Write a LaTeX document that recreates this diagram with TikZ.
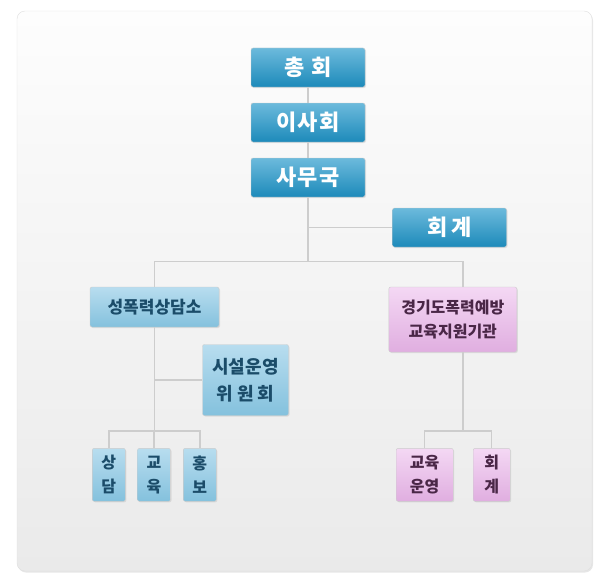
\documentclass[tikz,border=0pt]{standalone}
\usepackage{fontspec}
\setmainfont{Noto Sans CJK KR}
\usetikzlibrary{shadows}

\definecolor{headtop}{HTML}{6CBADC}
\definecolor{headbottom}{HTML}{1D8ABA}
\definecolor{subtop}{HTML}{B8DDEF}
\definecolor{subbottom}{HTML}{84C1DD}
\definecolor{subtext}{HTML}{1B4C69}
\definecolor{pinktop}{HTML}{F4D8F4}
\definecolor{pinkbottom}{HTML}{E0AEE0}
\definecolor{pinktext}{HTML}{4A2747}
\definecolor{linegray}{HTML}{CDCDCD}
\definecolor{paneltop}{HTML}{FDFDFD}
\definecolor{panelbottom}{HTML}{EAEAEA}

\begin{document}
\begin{tikzpicture}[
  x=1pt,
  y=-1pt,
  inner sep=0pt,
  box/.style={
    draw=gray!40,
    rounded corners=2pt,
    align=center,
    drop shadow={opacity=0.18,shadow xshift=1pt,shadow yshift=-1pt}
  },
  head/.style={
    box,
    top color=headtop,
    bottom color=headbottom,
    text=white,
    minimum width=114pt,
    minimum height=39pt,
    font=\fontsize{22}{26}\selectfont\bfseries
  },
  sub/.style={
    box,
    top color=subtop,
    bottom color=subbottom,
    text=subtext,
    font=\fontsize{17}{24}\selectfont\bfseries
  },
  pink/.style={
    box,
    top color=pinktop,
    bottom color=pinkbottom,
    text=pinktext,
    font=\fontsize{16}{24}\selectfont\bfseries
  },
  line/.style={
    draw=linegray,
    line width=1.4pt
  }
  ]

  % panel
  \useasboundingbox (0,0) rectangle (607,586);
  \path [rounded corners=8pt,top color=paneltop,bottom color=panelbottom,
    draw=gray!25,drop shadow={opacity=0.2,shadow xshift=1pt,shadow yshift=-1.5pt}]
    (17,11) rectangle (592,571);

  \node (chonghoe) [head] at (308,67.5) {총\hspace{0.3em}회};
  \node (isahoe) [head] at (308,122.5) {이\hspace{0.05em}사\hspace{0.05em}회};
  \node (samuguk) [head] at (308,177.5) {사\hspace{0.05em}무\hspace{0.05em}국};
  \node (hoegye) [head] at (449.5,227.5) {회\hspace{0.2em}계};
  \node (sangdamso) [sub,minimum width=129pt,minimum height=40pt] at (154.5,307) {성폭력상담소};
  \node (siseol) [sub,minimum width=86pt,minimum height=71pt,font=\fontsize{18}{27}\selectfont\bfseries] at (245.5,380) {시설운영\\위 원 회};
  \node (sangdam) [sub,minimum width=33pt,minimum height=53pt,font=\fontsize{16}{24}\selectfont\bfseries] at (108.8,474.8) {상\\담};
  \node (gyoyuk) [sub,minimum width=33pt,minimum height=53pt,font=\fontsize{16}{24}\selectfont\bfseries] at (154,474.8) {교\\육};
  \node (hongbo) [sub,minimum width=33pt,minimum height=53pt,font=\fontsize{16}{24}\selectfont\bfseries] at (199.8,474.8) {홍\\보};
  \node (gyeonggi) [pink,minimum width=128pt,minimum height=65pt] at (452.8,319.5) {경기도폭력예방\\교육지원기관};
  \node (gyoyuk-unyeong) [pink,minimum width=57pt,minimum height=53pt] at (424.7,474.8) {교육\\운영};
  \node (hoegye-two) [pink,minimum width=37pt,minimum height=53pt] at (491.7,474.8) {회\\계};

  \coordinate (split) at (308,261.5);
  \coordinate (left-bus) at (154.5,431);
  \coordinate (right-bus) at (462.8,431);

  \draw [line] (chonghoe) -- (isahoe);
  \draw [line] (isahoe) -- (samuguk);
  \draw [line] (samuguk) -- (split);
  \draw [line] (samuguk) |- (hoegye);
  \draw [line] (split) -| (sangdamso);
  \draw [line] (split) -| ([xshift=10pt]gyeonggi.north);
  \draw [line] (sangdamso) -- (left-bus);
  \draw [line] (sangdamso) |- (siseol);
  \draw [line] (left-bus) -| (sangdam);
  \draw [line] (left-bus) -| (gyoyuk);
  \draw [line] (left-bus) -| (hongbo);
  \draw [line] ([xshift=10pt]gyeonggi.south) -- (right-bus);
  \draw [line] (right-bus) -| (gyoyuk-unyeong);
  \draw [line] (right-bus) -| (hoegye-two);
\end{tikzpicture}
\end{document}
